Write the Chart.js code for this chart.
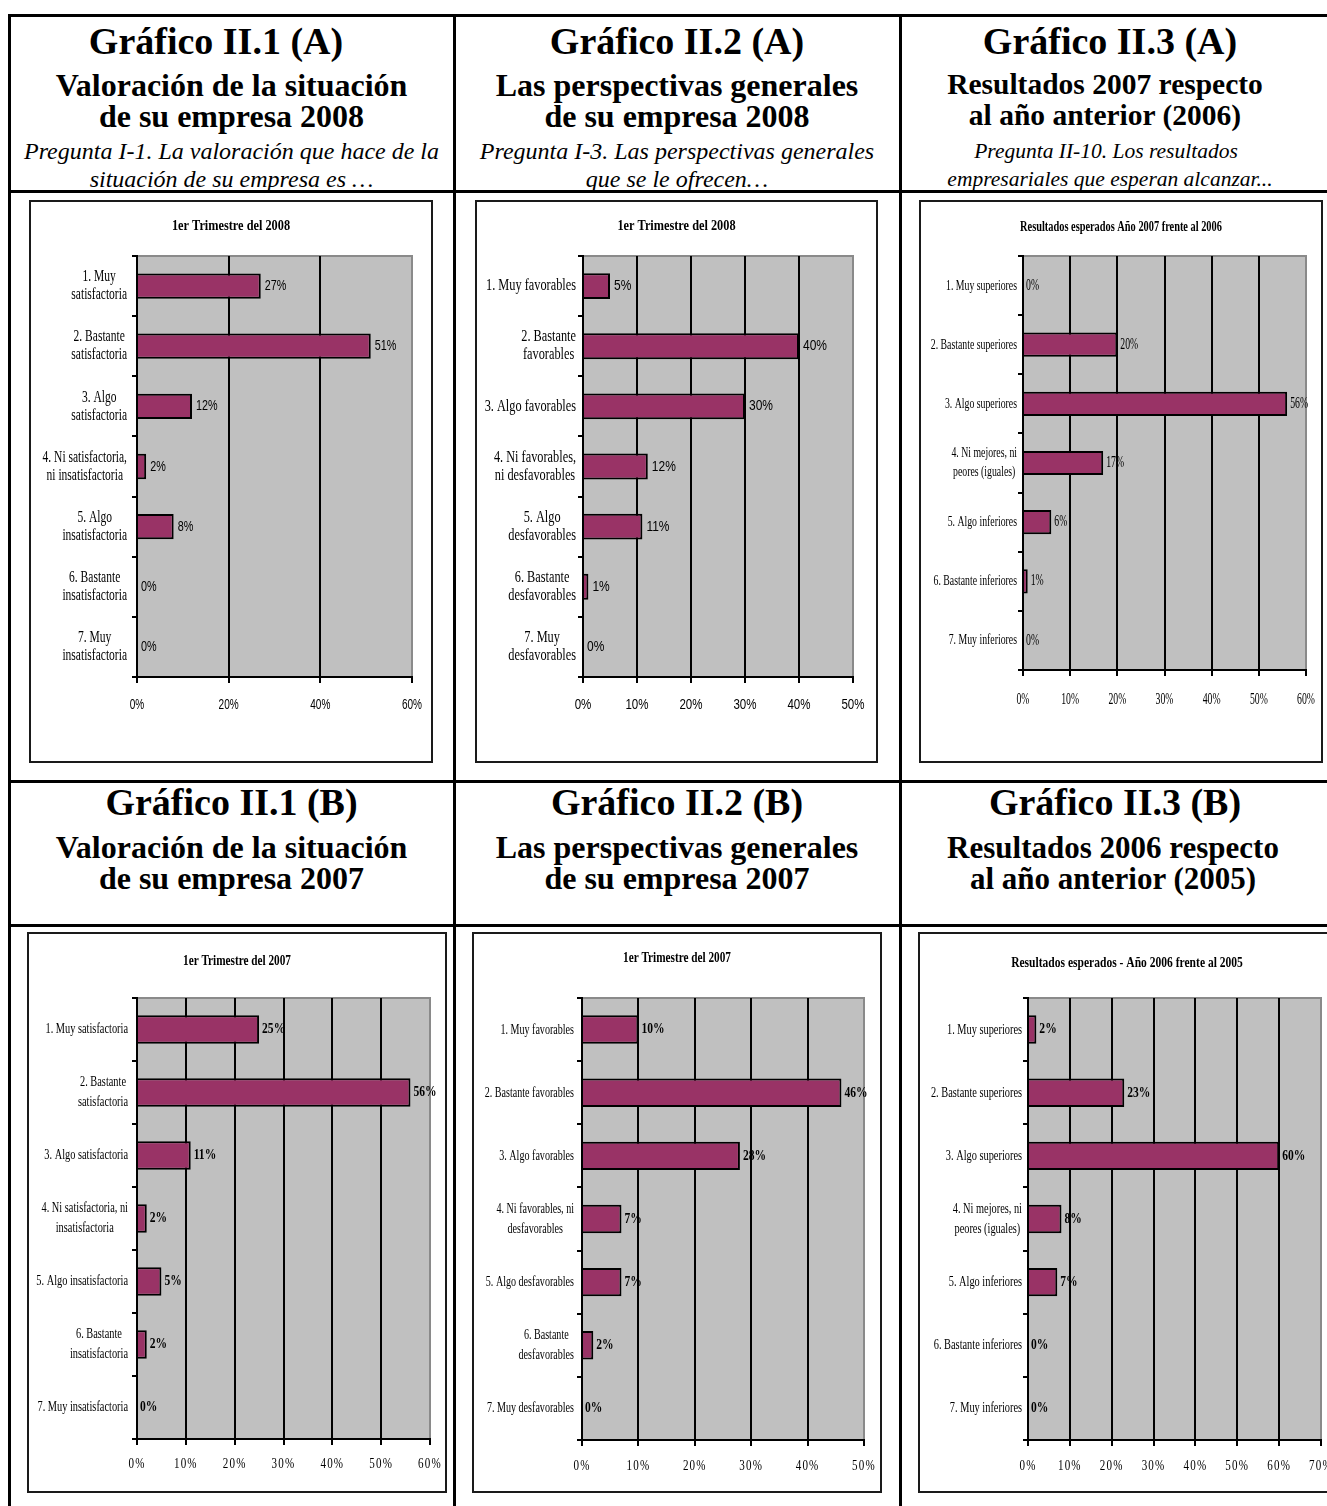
<!DOCTYPE html>
<html>
<head>
<meta charset="utf-8">
<script src="https://cdn.jsdelivr.net/npm/chart.js@4.4.0/dist/chart.umd.min.js"></script>
<style>
body { margin:0; background:#fff; width:1327px; height:1506px; overflow:hidden; position:relative; font-family:"Liberation Serif", serif; }
.ln { position:absolute; background:#000; }
.hd { position:absolute; text-align:center; white-space:nowrap; line-height:1; color:#000; font-weight:bold; }
.hd.it { font-weight:normal; font-style:italic; }
.box { position:absolute; border:2px solid #1a1a1a; background:#fff; box-sizing:border-box; }
.box canvas { position:absolute; left:0; top:0; }
</style>
</head>
<body>
<script>
// answers and percentages for each of the six survey charts
const labels1A = [['1. Muy','satisfactoria'], ['2. Bastante','satisfactoria'], ['3. Algo','satisfactoria'],
  ['4. Ni satisfactoria,','ni insatisfactoria'], ['5. Algo','insatisfactoria'], ['6. Bastante','insatisfactoria'], ['7. Muy','insatisfactoria']];
const values1A = [27, 51, 12, 2, 8, 0, 0];

const labels2A = ['1. Muy favorables', ['2. Bastante','favorables'], '3. Algo favorables',
  ['4. Ni favorables,','ni desfavorables'], ['5. Algo','desfavorables'], ['6. Bastante','desfavorables'], ['7. Muy','desfavorables']];
const values2A = [5, 40, 30, 12, 11, 1, 0];

const labels3A = ['1. Muy superiores', '2. Bastante superiores', '3. Algo superiores',
  ['4. Ni mejores, ni','peores (iguales)'], '5. Algo inferiores', '6. Bastante inferiores', '7. Muy inferiores'];
const values3A = [0, 20, 56, 17, 6, 1, 0];

const labels1B = ['1. Muy satisfactoria', ['2. Bastante','satisfactoria'], '3. Algo satisfactoria',
  ['4. Ni satisfactoria, ni','insatisfactoria'], '5. Algo insatisfactoria', ['6. Bastante','insatisfactoria'], '7. Muy insatisfactoria'];
const values1B = [25, 56, 11, 2, 5, 2, 0];

const labels2B = ['1. Muy favorables', '2. Bastante favorables', '3. Algo favorables',
  ['4. Ni favorables, ni','desfavorables'], '5. Algo desfavorables', ['6. Bastante','desfavorables'], '7. Muy desfavorables'];
const values2B = [10, 46, 28, 7, 7, 2, 0];

const labels3B = labels3A;
const values3B = [2, 23, 60, 8, 7, 0, 0];

// x axis ranges (max, step)
const ticks1A = [60, 20];
const ticks2A = [50, 10];
const ticks3A = [60, 10];
const ticks1B = [60, 10];
const ticks2B = [50, 10];
const ticks3B = [70, 10];

// header cells
const headA = [
  ['Gráfico II.1 (A)', 'Valoración de la situación', 'de su empresa 2008', 'Pregunta I-1. La valoración que hace de la', 'situación de su empresa es …'],
  ['Gráfico II.2 (A)', 'Las perspectivas generales', 'de su empresa 2008', 'Pregunta I-3. Las perspectivas generales', 'que se le ofrecen…'],
  ['Gráfico II.3 (A)', 'Resultados 2007 respecto', 'al año anterior (2006)', 'Pregunta II-10. Los resultados', 'empresariales que esperan alcanzar...']
];
const headB = [
  ['Gráfico II.1 (B)', 'Valoración de la situación', 'de su empresa 2007'],
  ['Gráfico II.2 (B)', 'Las perspectivas generales', 'de su empresa 2007'],
  ['Gráfico II.3 (B)', 'Resultados 2006 respecto', 'al año anterior (2005)']
];

function div(cls, css, text) {
  const d = document.createElement('div');
  d.className = cls;
  Object.assign(d.style, css);
  if (text) d.textContent = text;
  document.body.appendChild(d);
  return d;
}

// table rules
div('ln', { left: '7.5px', top: '14px', width: '1340px', height: '3px' });
div('ln', { left: '7.5px', top: '14px', width: '3px', height: '1500px' });
div('ln', { left: '452.5px', top: '14px', width: '3px', height: '1500px' });
div('ln', { left: '899px', top: '14px', width: '3px', height: '1500px' });
[190, 780, 924].forEach(y => div('ln', { left: '7.5px', top: y + 'px', width: '1340px', height: '3px' }));

// per line: centre x, baseline, font size, italic
const headLayoutA = [
  [[216, 54, 38, 0], [231.5, 96, 32, 0], [231.5, 127, 32, 0], [231.5, 159, 24, 1], [231.5, 187, 24, 1]],
  [[677, 54, 38, 0], [677, 96, 32, 0], [677, 127, 32, 0], [677, 159, 24, 1], [677, 187, 24, 1]],
  [[1110, 54, 38, 0], [1105, 95, 29.5, 0], [1105, 126, 29.5, 0], [1106, 159, 21.5, 1], [1110, 187, 21.5, 1]]
];
const headLayoutB = [
  [[231.5, 815, 38, 0], [231.5, 858, 32, 0], [231.5, 889, 32, 0]],
  [[677, 815, 38, 0], [677, 858, 32, 0], [677, 889, 32, 0]],
  [[1115, 815, 38, 0], [1113, 858, 31, 0], [1113, 889, 31, 0]]
];
function header(texts, layout) {
  texts.forEach((col, c) => {
    col.forEach((t, i) => {
      const [mid, base, size, it] = layout[c][i];
      div(it ? 'hd it' : 'hd', {
        left: (mid - 250) + 'px', width: '500px',
        top: (base - 0.8375 * size) + 'px', fontSize: size + 'px'
      }, t);
    });
  });
}
header(headA, headLayoutA);
header(headB, headLayoutB);

const serif = '"Liberation Serif"';
const sans = '"Liberation Sans"';

// frame box, plot rectangle and text styling of each chart
const charts = [
  { labels: labels1A, values: values1A, ticks: ticks1A, box: [29, 200, 433, 763], plot: [137, 256, 412, 677], bar: 0.42,
    title: '1er Trimestre del 2008', titleY: 226, titleFont: 'bold 15px ' + serif, titleSX: 0.82,
    yFont: '16px ' + serif, ySX: 0.72, yLineH: 18, yGap: 10,
    xFont: '15px ' + sans, xSX: 0.67, xY: 28, xSpacing: 0,
    dFont: '15px ' + sans, dSX: 0.72, dGap: 4 },
  { labels: labels2A, values: values2A, ticks: ticks2A, box: [475, 200, 878, 763], plot: [583, 256, 853, 677], bar: 0.43,
    title: '1er Trimestre del 2008', titleY: 226, titleFont: 'bold 15px ' + serif, titleSX: 0.82,
    yFont: '16px ' + serif, ySX: 0.77, yLineH: 18, yGap: 7,
    xFont: '15px ' + sans, xSX: 0.77, xY: 28, xSpacing: 0,
    dFont: '15px ' + sans, dSX: 0.8, dGap: 4 },
  { labels: labels3A, values: values3A, ticks: ticks3A, box: [919, 200, 1323, 763], plot: [1023, 256, 1306, 670], bar: 0.41,
    title: 'Resultados esperados Año 2007 frente al 2006', titleY: 227, titleFont: 'bold 14px ' + serif, titleSX: 0.74,
    yFont: '15px ' + serif, ySX: 0.653, yLineH: 19, yGap: 6,
    xFont: '16px ' + serif, xSX: 0.61, xY: 30, xSpacing: 0,
    dFont: '16px ' + serif, dSX: 0.61, dGap: 3 },
  { labels: labels1B, values: values1B, ticks: ticks1B, box: [27, 932, 447, 1493], plot: [137, 998, 430, 1439], bar: 0.45,
    title: '1er Trimestre del 2007', titleY: 961, titleFont: 'bold 15px ' + serif, titleSX: 0.75,
    yFont: '15px ' + serif, ySX: 0.69, yLineH: 20, yGap: 9,
    xFont: '14px ' + serif, xSX: 0.79, xY: 25, xSpacing: 1.5,
    dFont: 'bold 15px ' + serif, dSX: 0.77, dGap: 3 },
  { labels: labels2B, values: values2B, ticks: ticks2B, box: [472, 932, 882, 1493], plot: [582, 998, 864, 1440], bar: 0.45,
    title: '1er Trimestre del 2007', titleY: 958, titleFont: 'bold 15px ' + serif, titleSX: 0.75,
    yFont: '15px ' + serif, ySX: 0.672, yLineH: 20, yGap: 8,
    xFont: '14px ' + serif, xSX: 0.79, xY: 26, xSpacing: 1.5,
    dFont: 'bold 15px ' + serif, dSX: 0.77, dGap: 3 },
  { labels: labels3B, values: values3B, ticks: ticks3B, box: [918, 932, 1336, 1493], plot: [1028, 998, 1321, 1440], bar: 0.45,
    title: 'Resultados esperados - Año 2006 frente al 2005', titleY: 963, titleFont: 'bold 15px ' + serif, titleSX: 0.77,
    yFont: '15px ' + serif, ySX: 0.69, yLineH: 20, yGap: 6,
    xFont: '14px ' + serif, xSX: 0.79, xY: 26, xSpacing: 1.5,
    dFont: 'bold 15px ' + serif, dSX: 0.77, dGap: 3 }
];

// narrow text: draw with a horizontal squeeze
function put(ctx, str, x, y, font, sx, align, spacing) {
  ctx.save();
  ctx.font = font;
  ctx.textBaseline = 'middle';
  ctx.textAlign = align;
  ctx.letterSpacing = (spacing || 0) + 'px';
  ctx.translate(x, y);
  ctx.scale(sx, 1);
  ctx.fillText(str, 0, 0);
  ctx.restore();
}

// grey plot area with a grey frame, like the old spreadsheet charts
const plotFill = {
  id: 'plotFill',
  beforeDraw(chart) {
    const { ctx, chartArea: a } = chart;
    ctx.save();
    ctx.fillStyle = '#c0c0c0';
    ctx.fillRect(a.left, a.top, a.width, a.height);
    ctx.strokeStyle = '#8a8a8a';
    ctx.lineWidth = 2;
    ctx.strokeRect(a.left, a.top, a.width, a.height);
    ctx.restore();
  }
};

function chartText(s, top) {
  return {
    id: 'chartText',
    afterDraw(chart) {
      const ctx = chart.ctx, area = chart.chartArea;
      const xs = chart.scales.x, ys = chart.scales.y;
      ctx.save();
      ctx.fillStyle = '#000';
      put(ctx, s.title, chart.width / 2, s.titleY - top, s.titleFont, s.titleSX, 'center', 0);
      // category names: lines centred on each other, block against the axis
      s.labels.forEach((lab, i) => {
        const lines = Array.isArray(lab) ? lab : [lab];
        ctx.font = s.yFont;
        ctx.letterSpacing = '0px';
        const w = Math.max(...lines.map(t => ctx.measureText(t).width)) * s.ySX;
        const mid = area.left - s.yGap - w / 2;
        const yc = ys.getPixelForValue(i);
        lines.forEach((t, j) => put(ctx, t, mid, yc + (j - (lines.length - 1) / 2) * s.yLineH, s.yFont, s.ySX, 'center', 0));
      });
      xs.ticks.forEach(tk => put(ctx, tk.value + '%', xs.getPixelForValue(tk.value), area.bottom + s.xY, s.xFont, s.xSX, 'center', s.xSpacing));
      chart.getDatasetMeta(0).data.forEach((el, i) => put(ctx, s.values[i] + '%', el.x + s.dGap, el.y, s.dFont, s.dSX, 'left', 0));
      ctx.restore();
    }
  };
}

charts.forEach(s => {
  const [bx0, by0, bx1, by1] = s.box;
  const box = div('box', { left: bx0 + 'px', top: by0 + 'px', width: (bx1 - bx0) + 'px', height: (by1 - by0) + 'px' });
  const cx = bx0 + 2, cy = by0 + 2, W = bx1 - bx0 - 4, H = by1 - by0 - 4;
  const canvas = document.createElement('canvas');
  canvas.width = W; canvas.height = H;
  canvas.style.width = W + 'px'; canvas.style.height = H + 'px';
  box.appendChild(canvas);

  const left = s.plot[0] - cx, topPad = s.plot[1] - cy;
  const right = cx + W - s.plot[2];
  const below = cy + H - s.plot[3];
  const xH = 20;
  const [max, step] = s.ticks;

  new Chart(canvas.getContext('2d'), {
    type: 'bar',
    data: {
      labels: s.labels.map(l => Array.isArray(l) ? l.join(' ') : l),
      datasets: [{
        data: s.values,
        backgroundColor: '#993366',
        borderColor: '#000',
        borderWidth: 2,
        barPercentage: s.bar,
        categoryPercentage: 1
      }]
    },
    options: {
      indexAxis: 'y',
      responsive: false,
      animation: false,
      devicePixelRatio: 1,
      layout: { padding: { left: 0, top: topPad, right: right, bottom: below - xH } },
      plugins: { legend: { display: false }, tooltip: { enabled: false }, title: { display: false } },
      scales: {
        x: {
          min: 0, max: max,
          ticks: { stepSize: step, display: false },
          grid: {
            color: c => c.tick && c.tick.value === max ? '#8a8a8a' : '#000',
            lineWidth: 2, tickLength: 6, tickColor: '#000', tickWidth: 2
          },
          border: { color: '#000', width: 2 },
          afterFit: sc => { sc.height = xH; }
        },
        y: {
          ticks: { display: false },
          grid: { drawOnChartArea: false, tickLength: 5, color: '#000', lineWidth: 2, offset: true },
          border: { color: '#000', width: 2 },
          afterFit: sc => { sc.width = left; }
        }
      }
    },
    plugins: [plotFill, chartText(s, cy)]
  });
});
</script>
</body>
</html>
